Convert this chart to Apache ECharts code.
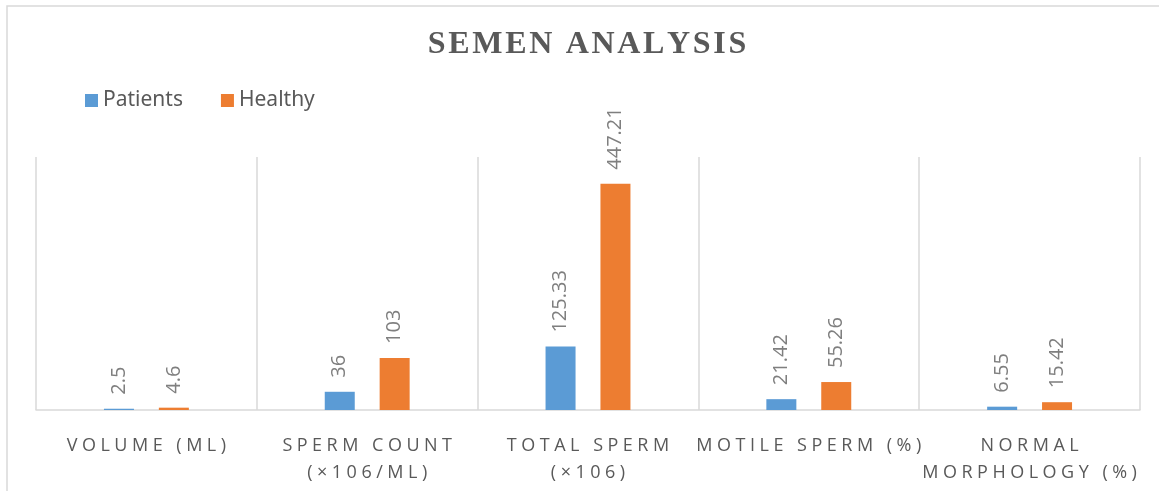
<!DOCTYPE html>
<html>
<head>
<meta charset="utf-8">
<script src="https://cdn.jsdelivr.net/npm/echarts@6/dist/echarts.min.js"></script>
<style>
  html, body { margin: 0; padding: 0; background: #fff; }
  #chart { width: 1159px; height: 491px; }
</style>
</head>
<body>
<div id="chart"></div>
<script>
const categories = ['Volume (ml)', 'Sperm count\n(×106/ml)', 'Total sperm\n(×106)', 'Motile sperm (%)', 'Normal\nmorphology (%)'];
const patients = [2.5, 36, 125.33, 21.42, 6.55];
const healthy = [4.6, 103, 447.21, 55.26, 15.42];

// spread letters out a bit, like the wide caps in the original
function spaced(s, sep) {
  return s.toUpperCase().split('\n').map(line => line.split('').join(sep)).join('\n');
}

const chart = echarts.init(document.getElementById('chart'));

const barLabel = {
  show: true,
  position: 'top',
  rotate: 90,
  align: 'left',
  verticalAlign: 'middle',
  distance: 14,
  color: '#7f7f7f',
  fontFamily: 'Open Sans',
  fontSize: 20
};

chart.setOption({
  animation: false,
  graphic: [{
    type: 'rect',
    shape: { x: 7, y: 6, width: 1170, height: 500 },
    style: { fill: 'none', stroke: '#d9d9d9', lineWidth: 1.5 },
    silent: true
  }],
  title: {
    text: spaced('Semen analysis', '\u200a'),
    left: 582,
    textAlign: 'center',
    top: 24,
    textStyle: {
      fontFamily: 'Liberation Serif',
      fontWeight: 'bold',
      fontSize: 32,
      color: '#595959'
    }
  },
  legend: {
    left: 80,
    top: 85,
    itemWidth: 13,
    itemHeight: 13,
    itemGap: 38,
    icon: 'rect',
    textStyle: { fontFamily: 'Noto Sans', fontSize: 21, color: '#595959' },
    data: ['Patients', 'Healthy']
  },
  grid: { left: 36, right: 19, top: 157, bottom: 81 },
  xAxis: {
    type: 'category',
    data: categories,
    axisLine: { lineStyle: { color: '#d9d9d9', width: 1.5 } },
    axisTick: { show: false },
    splitLine: { show: true, lineStyle: { color: '#d9d9d9', width: 1.5 } },
    axisLabel: {
      interval: 0,
      margin: 22,
      fontFamily: 'Open Sans',
      fontSize: 18,
      lineHeight: 27,
      color: '#595959',
      formatter: v => spaced(v, '\u2005')
    }
  },
  yAxis: {
    type: 'value',
    min: 0,
    max: 500,
    show: false,
    splitLine: { show: false }
  },
  series: [
    {
      name: 'Patients',
      type: 'bar',
      data: patients,
      barWidth: 30,
      barGap: '83%',
      itemStyle: { color: '#5b9bd5' },
      label: barLabel
    },
    {
      name: 'Healthy',
      type: 'bar',
      data: healthy,
      barWidth: 30,
      itemStyle: { color: '#ed7d31' },
      label: barLabel
    }
  ]
});
</script>
</body>
</html>
